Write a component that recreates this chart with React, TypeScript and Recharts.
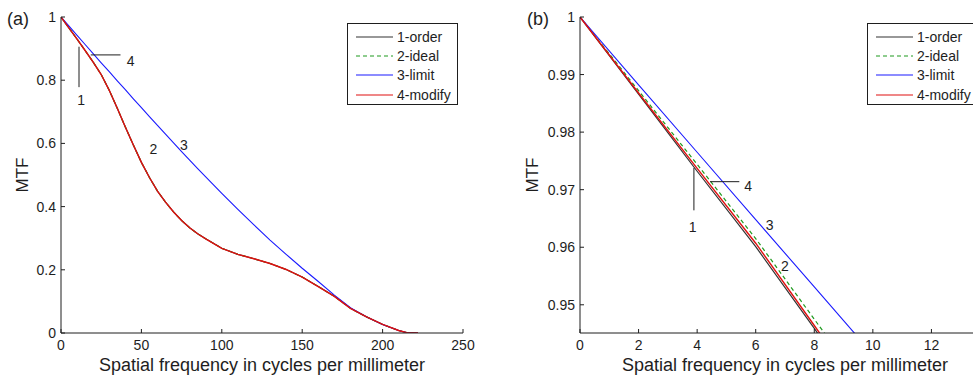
import { Legend, Line, LineChart, ReferenceDot, ReferenceLine, XAxis, YAxis } from "recharts";

// (a) full range: 1-order, 2-ideal and 4-modify sit on top of each other here
const freqA = [0, 5, 10, 15, 20, 25, 30, 35, 40, 45, 50, 55, 60, 65, 70, 75, 80, 85, 90, 95, 100, 110, 120, 130, 140, 150, 160, 170, 180, 190, 200, 210, 215, 222];
const nearA = [1, 0.965, 0.93, 0.894, 0.857, 0.818, 0.768, 0.711, 0.652, 0.595, 0.54, 0.492, 0.449, 0.414, 0.383, 0.356, 0.333, 0.314, 0.298, 0.283, 0.268, 0.249, 0.235, 0.22, 0.201, 0.177, 0.147, 0.116, 0.078, 0.051, 0.027, 0.008, 0.001, 0];
const limitA = [1, 0.971, 0.942, 0.913, 0.884, 0.855, 0.827, 0.798, 0.77, 0.741, 0.713, 0.685, 0.657, 0.629, 0.602, 0.574, 0.547, 0.52, 0.494, 0.468, 0.442, 0.391, 0.342, 0.294, 0.249, 0.205, 0.163, 0.12, 0.08, 0.051, 0.027, 0.008, 0.001, 0];

// (b) zoom on the first few cycles/mm
const freqB = [0, 2, 4, 6, 8, 10];
const orderB = [1, 0.9866, 0.9732, 0.9601, 0.9459, 0.931];
const idealB = [1, 0.9872, 0.9744, 0.9615, 0.9475, 0.9335];
const limitB = [1, 0.9882, 0.9765, 0.9648, 0.9531, 0.9414];
const modifyB = [1, 0.9868, 0.9737, 0.9607, 0.9464, 0.932];

const ticksAX = [0, 50, 100, 150, 200, 250];
const ticksAY = [0, 0.2, 0.4, 0.6, 0.8, 1];
const ticksBX = [0, 2, 4, 6, 8, 10, 12];
const ticksBY = [0.95, 0.96, 0.97, 0.98, 0.99, 1];

const FONT = '"Liberation Sans", Arial, Helvetica, sans-serif';
const INK = "#1e1e1e";
const X_TITLE = "Spatial frequency in cycles per millimeter";

const SERIES = [
  { key: "order", name: "1-order", color: "#333333", dash: undefined as string | undefined, w: 1.2 },
  { key: "ideal", name: "2-ideal", color: "#1f9a1f", dash: "4 3", w: 1.2 },
  { key: "limit", name: "3-limit", color: "#1a1aff", dash: undefined, w: 1.1 },
  { key: "modify", name: "4-modify", color: "#e01010", dash: undefined, w: 1.4 },
];

const dataA = freqA.map((f, i) => ({ f, order: nearA[i], ideal: nearA[i], limit: limitA[i], modify: nearA[i] }));
const dataB = freqB.map((f, i) => ({ f, order: orderB[i], ideal: idealB[i], limit: limitB[i], modify: modifyB[i] }));

// little pointer marks + curve numbers, in data coordinates
const segsA = [
  [{ x: 11.2, y: 0.906 }, { x: 11.2, y: 0.778 }],
  [{ x: 18.5, y: 0.88 }, { x: 37, y: 0.88 }],
];
const notesA = [
  { t: "1", x: 12.6, y: 0.737 },
  { t: "4", x: 43.3, y: 0.86 },
  { t: "2", x: 57.4, y: 0.581 },
  { t: "3", x: 76.5, y: 0.595 },
];
const segsB = [
  [{ x: 3.89, y: 0.97377 }, { x: 3.89, y: 0.96641 }],
  [{ x: 4.44, y: 0.97139 }, { x: 5.44, y: 0.97139 }],
];
const notesB = [
  { t: "1", x: 3.85, y: 0.96352 },
  { t: "4", x: 5.74, y: 0.9707 },
  { t: "3", x: 6.48, y: 0.96392 },
  { t: "2", x: 7.0, y: 0.9568 },
];

const tickStyle = { fill: INK, fontSize: 14, fontFamily: FONT };

function MatLegend() {
  return (
    <div
      style={{
        width: 111,
        height: 82,
        boxSizing: "border-box",
        border: `1px solid ${INK}`,
        background: "#fff",
        padding: "3px 0 0 8px",
      }}
    >
      {SERIES.map((s) => (
        <div key={s.key} style={{ display: "flex", alignItems: "center", height: 19.4 }}>
          <svg width={37} height={4} style={{ display: "block" }}>
            <line x1={0} x2={37} y1={2} y2={2} stroke={s.color} strokeWidth={1.2} strokeDasharray={s.dash} />
          </svg>
          <span style={{ marginLeft: 4, fontSize: 14, fontFamily: FONT, color: INK, lineHeight: 1 }}>{s.name}</span>
        </div>
      ))}
    </div>
  );
}

type Pt = { x: number; y: number };

function Panel({
  data, width, yWidth, right, xDomain, yDomain, xTicks, yTicks, fmtY, segs, notes, legendLeft, yTitleDx,
}: {
  data: Record<string, number>[];
  width: number;
  yWidth: number;
  right: number;
  xDomain: [number, number];
  yDomain: [number, number];
  xTicks: number[];
  yTicks: number[];
  fmtY: (v: number) => string;
  segs: Pt[][];
  notes: { t: string; x: number; y: number }[];
  legendLeft: number;
  yTitleDx: number;
}) {
  return (
    <LineChart width={width} height={380} data={data} margin={{ top: 17, right, left: 0, bottom: 0 }}>
      <XAxis
        type="number"
        dataKey="f"
        domain={xDomain}
        ticks={xTicks}
        interval={0}
        allowDataOverflow
        height={47}
        stroke={INK}
        tickSize={-4}
        tickMargin={11}
        tick={tickStyle}
        label={{ value: X_TITLE, position: "center", dy: 8, fill: INK, fontSize: 18, fontFamily: FONT }}
      />
      <XAxis
        xAxisId="top"
        orientation="top"
        type="number"
        domain={xDomain}
        ticks={xTicks}
        interval={0}
        allowDataOverflow
        height={0}
        stroke={INK}
        tickSize={-4}
        tickFormatter={() => ""}
      />
      <YAxis
        type="number"
        domain={yDomain}
        ticks={yTicks}
        interval={0}
        allowDataOverflow
        width={yWidth}
        stroke={INK}
        tickSize={-4}
        tickMargin={9}
        tick={tickStyle}
        tickFormatter={fmtY}
        label={{ value: "MTF", angle: -90, position: "center", dx: yTitleDx, fill: INK, fontSize: 17, fontFamily: FONT }}
      />
      <YAxis
        yAxisId="right"
        orientation="right"
        type="number"
        domain={yDomain}
        ticks={yTicks}
        interval={0}
        allowDataOverflow
        width={0}
        stroke={INK}
        tickSize={-4}
        tickFormatter={() => ""}
      />
      {SERIES.map((s) => (
        <Line
          key={s.key}
          dataKey={s.key}
          name={s.name}
          stroke={s.color}
          strokeWidth={s.w}
          strokeDasharray={s.dash}
          dot={false}
          activeDot={false}
          isAnimationActive={false}
        />
      ))}
      {segs.map((sg, i) => (
        <ReferenceLine key={i} segment={sg} stroke={INK} strokeWidth={1} />
      ))}
      {notes.map((n) => (
        <ReferenceDot
          key={n.t}
          x={n.x}
          y={n.y}
          r={0}
          fill="none"
          stroke="none"
          label={{ value: n.t, position: "center", fill: INK, fontSize: 14, fontFamily: FONT }}
        />
      ))}
      <Legend
        content={<MatLegend />}
        layout="vertical"
        align="center"
        verticalAlign="middle"
        wrapperStyle={{ left: legendLeft, top: 23 }}
      />
    </LineChart>
  );
}

const tag = (left: number): React.CSSProperties => ({
  position: "absolute",
  left,
  top: 8,
  height: 22,
  lineHeight: "22px",
  fontSize: 18,
  fontFamily: FONT,
  color: INK,
});

export default function App() {
  return (
    <div style={{ position: "fixed", left: 0, top: 0, width: 973, height: 380, overflow: "hidden", background: "#fff" }}>
      <div style={{ position: "absolute", left: 0, top: 0 }}>
        <Panel
          data={dataA}
          width={490}
          yWidth={61}
          right={27}
          xDomain={[0, 250]}
          yDomain={[0, 1]}
          xTicks={ticksAX}
          yTicks={ticksAY}
          fmtY={(v) => String(v)}
          segs={segsA}
          notes={notesA}
          legendLeft={347}
          yTitleDx={-8.8}
        />
      </div>
      <div style={{ position: "absolute", left: 490, top: 0 }}>
        <Panel
          data={dataB}
          width={510}
          yWidth={90}
          right={10}
          xDomain={[0, 14]}
          yDomain={[0.9451, 1]}
          xTicks={ticksBX}
          yTicks={ticksBY}
          fmtY={(v) => (v === 1 ? "1" : v.toFixed(2))}
          segs={segsB}
          notes={notesB}
          legendLeft={377}
          yTitleDx={-3.3}
        />
      </div>
      <div style={tag(7)}>(a)</div>
      <div style={tag(527)}>(b)</div>
    </div>
  );
}
